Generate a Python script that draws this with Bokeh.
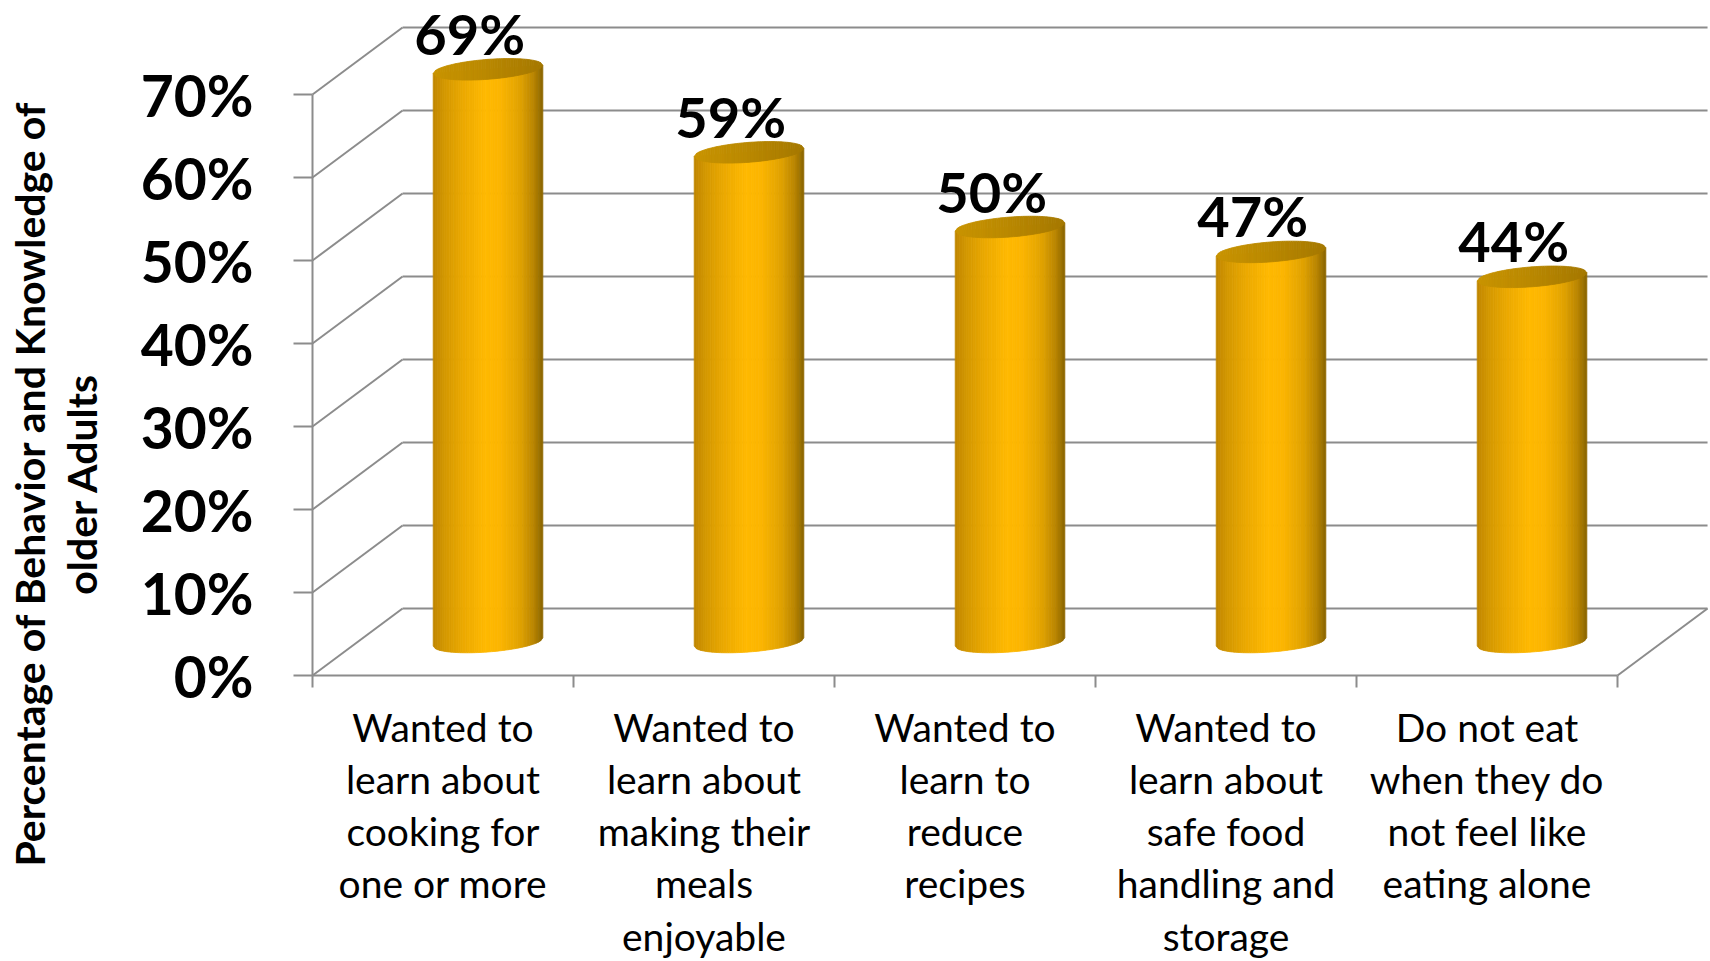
import numpy as np
from bokeh.plotting import figure
from bokeh.models import Range1d, FixedTicker, PrintfTickFormatter
from bokeh.embed import file_html
from bokeh.resources import INLINE
from bokeh.core.properties import value

# ---------------- data ----------------
categories = [
    "Wanted to\nlearn about\ncooking for\none or more",
    "Wanted to\nlearn about\nmaking their\nmeals\nenjoyable",
    "Wanted to\nlearn to\nreduce\nrecipes",
    "Wanted to\nlearn about\nsafe food\nhandling and\nstorage",
    "Do not eat\nwhen they do\nnot feel like\neating alone",
]
values = [69, 59, 50, 47, 44]
value_labels = ["69%", "59%", "50%", "47%", "44%"]
y_ticks = [0, 10, 20, 30, 40, 50, 60, 70]
y_title = "Percentage of Behavior and Knowledge of\nolder Adults"

# ---------------- geometry / style ----------------
W, H = 1710, 961
PX_X = 261.0        # pixels per category
PX_Y = 8.3          # pixels per percent
LEFT_PX = 312       # front axis position
BOTTOM_PX = 286     # space below 0 line
N = len(categories)
DX = 0.345          # depth offset in category units
DY = 8.07           # depth offset in percent units
A = 0.21            # cylinder half width
B = 1.2             # ellipse half height
S = 2.36            # ellipse tilt (shear)
NSTRIP = 48
GRID = "#8c8c8c"
FONT = "Lato"

body_stops = [(0.0, "#c08600"), (0.12, "#d69a00"), (0.30, "#eeab00"), (0.48, "#ffb900"),
              (0.62, "#fbb500"), (0.80, "#dfa100"), (0.92, "#b98500"), (1.0, "#8a6500")]
top_stops = [(0.0, "#c99400"), (0.5, "#b98800"), (1.0, "#a57800")]


def ramp(stops, t):
    for (t0, c0), (t1, c1) in zip(stops[:-1], stops[1:]):
        if t <= t1:
            f = (t - t0) / (t1 - t0) if t1 > t0 else 0
            a = [int(c0[i:i + 2], 16) for i in (1, 3, 5)]
            b = [int(c1[i:i + 2], 16) for i in (1, 3, 5)]
            return "#%02x%02x%02x" % tuple(round(a[k] + (b[k] - a[k]) * f) for k in range(3))
    return stops[-1][1]


p = figure(width=W, height=H, output_backend="svg", toolbar_location=None,
           x_range=Range1d(-LEFT_PX / PX_X, (W - LEFT_PX) / PX_X),
           y_range=Range1d(-BOTTOM_PX / PX_Y, (H - BOTTOM_PX) / PX_Y),
           min_border=0)
p.outline_line_color = None
p.grid.visible = False
p.background_fill_color = "white"

# walls / floor
p.segment(x0=[DX] * len(y_ticks), y0=[t + DY for t in y_ticks],
          x1=[N + DX] * len(y_ticks), y1=[t + DY for t in y_ticks],
          line_color=GRID, line_width=2)
p.segment(x0=[0] * len(y_ticks), y0=y_ticks,
          x1=[DX] * len(y_ticks), y1=[t + DY for t in y_ticks],
          line_color=GRID, line_width=2)
p.segment(x0=[N], y0=[0], x1=[N + DX], y1=[DY], line_color=GRID, line_width=2)

# cylinders
bxs, bys, bcs = [], [], []
txs, tys, tcs = [], [], []
edges = np.linspace(-A, A, NSTRIP + 1)


def half(u):
    return B * np.sqrt(max(0.0, 1 - (u / A) ** 2))


for k, v in enumerate(values):
    cx = k + 0.5 + DX / 2
    cb = DY / 2
    ct = v + DY / 2
    for j in range(NSTRIP):
        u0, u1 = edges[j], edges[j + 1]
        t = (j + 0.5) / NSTRIP
        bxs.append([cx + u0, cx + u1, cx + u1, cx + u0])
        bys.append([cb + S * u0 - half(u0), cb + S * u1 - half(u1), ct + S * u1, ct + S * u0])
        bcs.append(ramp(body_stops, t))
        txs.append([cx + u0, cx + u1, cx + u1, cx + u0])
        tys.append([ct + S * u0 - half(u0), ct + S * u1 - half(u1), ct + S * u1 + half(u1), ct + S * u0 + half(u0)])
        tcs.append(ramp(top_stops, t))

p.patches(xs=bxs, ys=bys, fill_color=bcs, line_color=bcs, line_width=0.8)
p.patches(xs=txs, ys=tys, fill_color=tcs, line_color=tcs, line_width=0.8)

# value labels
p.text(x=[k + 0.5 + DX / 2 - 0.07 for k in range(N)], y=[v + DY / 2 + 0.3 for v in values],
       text=value_labels, text_align="center", text_baseline="bottom",
       text_font=value(FONT), text_font_style="bold", text_font_size="56px", text_color="black")

# axes (fixed at the front plane)
ya = p.yaxis[0]
ya.fixed_location = 0
ya.ticker = FixedTicker(ticks=y_ticks)
ya.formatter = PrintfTickFormatter(format="%d%%")
ya.bounds = (0, 70)
ya.axis_line_color = GRID
ya.axis_line_width = 2
ya.major_tick_line_color = GRID
ya.major_tick_line_width = 2
ya.major_tick_out = 19
ya.major_tick_in = 0
ya.minor_tick_line_color = None
ya.major_label_standoff = 40
ya.major_label_text_font = FONT
ya.major_label_text_font_style = "bold"
ya.major_label_text_font_size = "57px"
ya.major_label_text_color = "black"

xa = p.xaxis[0]
xa.fixed_location = 0
xa.ticker = FixedTicker(ticks=list(range(N + 1)))
xa.bounds = (0, N)
xa.axis_line_color = GRID
xa.axis_line_width = 2
xa.major_tick_line_color = GRID
xa.major_tick_line_width = 2
xa.major_tick_out = 12
xa.major_tick_in = 0
xa.minor_tick_line_color = None
xa.major_label_text_font_size = "0px"
xa.major_label_text_color = None

# category labels
p.text(x=[k + 0.5 for k in range(N)], y=[-3.4] * N, text=categories,
       text_align="center", text_baseline="top", text_font=value(FONT),
       text_font_size="39px", text_line_height=1.135, text_color="black")

# y title
p.text(x=[-0.985], y=[23.1], text=[y_title], angle=np.pi / 2, text_align="center",
       text_baseline="middle", text_font=value(FONT), text_font_style="bold",
       text_font_size="41px", text_line_height=1.06, text_color="black")

open("out.html", "w").write(file_html(p, INLINE))
